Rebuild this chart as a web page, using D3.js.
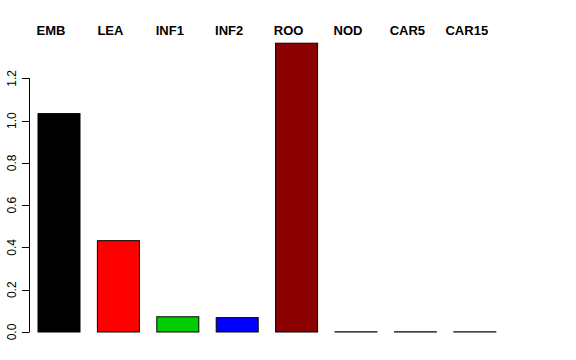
<!DOCTYPE html>
<html>
<head>
<meta charset="utf-8">
<script src="https://cdn.jsdelivr.net/npm/d3@7"></script>
<style>
  body { margin: 0; background: #fff; }
  text { font-family: "Liberation Sans", Arial, Helvetica, sans-serif; }
</style>
</head>
<body>
<script>
// tissue labels and bar heights
const categories = ["EMB", "LEA", "INF1", "INF2", "ROO", "NOD", "CAR5", "CAR15"];
const values = [1.033, 0.432, 0.072, 0.068, 1.366, 0.001, 0.001, 0.001];
const colors = ["#000000", "#ff0000", "#00cd00", "#0000ff", "#8b0000", "#00ffff", "#ff00ff", "#ffff00"];
const yTicks = [0, 0.2, 0.4, 0.6, 0.8, 1.0, 1.2];

const width = 576;
const height = 360;

const svg = d3.select("body").append("svg")
    .attr("width", width)
    .attr("height", height);

// bar positions: ~42px bars with ~17px gaps, like R barplot
const x = d3.scaleBand()
    .domain(categories)
    .range([38, 495.8])
    .paddingInner(0.293)
    .paddingOuter(0)
    .align(0);

const y = d3.scaleLinear()
    .domain([0, 1.2])
    .range([332, 78.3]);

// bars
svg.selectAll("rect.bar")
    .data(categories)
    .join("rect")
    .attr("class", "bar")
    .attr("x", d => x(d))
    .attr("width", x.bandwidth())
    .attr("y", (d, i) => y(values[i]))
    .attr("height", (d, i) => y(0) - y(values[i]))
    .attr("fill", (d, i) => colors[i])
    .attr("stroke", "#000")
    .attr("stroke-width", 1);

// y axis, drawn by hand to match R's rotated labels
const axis = svg.append("g");
axis.append("line")
    .attr("x1", 29.5).attr("x2", 29.5)
    .attr("y1", y(0)).attr("y2", y(1.2))
    .attr("stroke", "#000");

axis.selectAll("line.tick")
    .data(yTicks)
    .join("line")
    .attr("class", "tick")
    .attr("x1", 22).attr("x2", 29.5)
    .attr("y1", d => Math.round(y(d)) + 0.5)
    .attr("y2", d => Math.round(y(d)) + 0.5)
    .attr("stroke", "#000");

axis.selectAll("text")
    .data(yTicks)
    .join("text")
    .attr("transform", d => `translate(16, ${y(d)}) rotate(-90)`)
    .attr("text-anchor", "middle")
    .style("font-size", "12px")
    .text(d => d.toFixed(1));

// category labels on top
svg.selectAll("text.lab")
    .data(categories)
    .join("text")
    .attr("class", "lab")
    .attr("x", d => x(d) + x.bandwidth() / 2 - 8)
    .attr("y", 35)
    .attr("text-anchor", "middle")
    .style("font-size", "13px")
    .style("font-weight", "bold")
    .text(d => d);
</script>
</body>
</html>
